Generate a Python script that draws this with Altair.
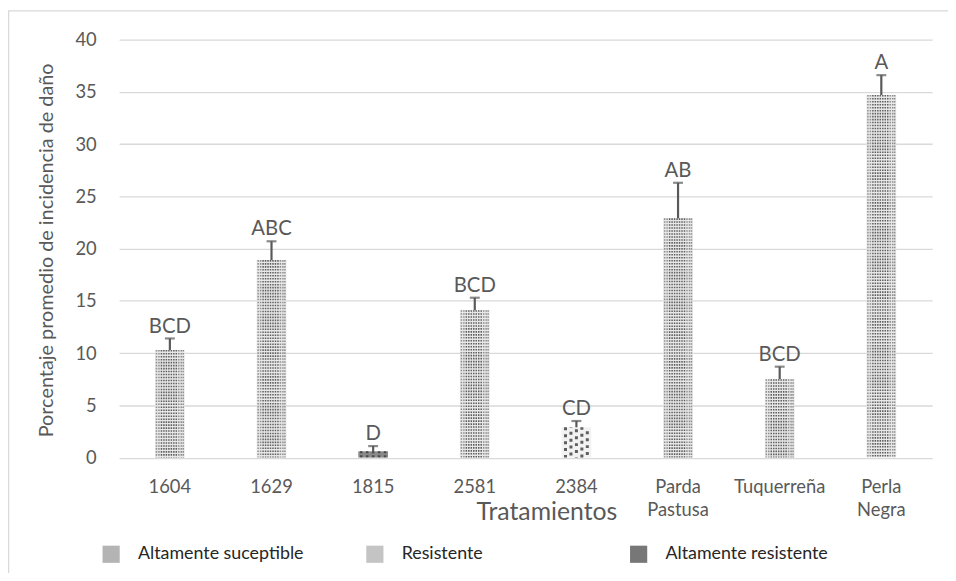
import altair as alt
import pandas as pd

categorias = ["1604", "1629", "1815", "2581", "2384", "Parda Pastusa", "Tuquerreña", "Perla Negra"]
promedios = [10.3, 18.9, 0.6, 14.1, 2.9, 22.9, 7.5, 34.7]
errores = [1.1, 1.8, 0.5, 1.2, 0.6, 3.4, 1.2, 1.9]
letras = ["BCD", "ABC", "D", "BCD", "CD", "AB", "BCD", "A"]
tipos = ["Altamente suceptible", "Altamente suceptible", "Altamente resistente",
         "Altamente suceptible", "Resistente", "Altamente suceptible",
         "Altamente suceptible", "Altamente suceptible"]
tipo_orden = ["Altamente suceptible", "Resistente", "Altamente resistente"]
y_ticks = [0, 5, 10, 15, 20, 25, 30, 35, 40]

df = pd.DataFrame({
    "Tratamiento": categorias,
    "Promedio": promedios,
    "Error": errores,
    "Letra": letras,
    "Tipo": tipos,
})
df["Superior"] = df["Promedio"] + df["Error"]
df["Cero"] = 0.0

FONT = "Lato"
GRAY = "#595959"

x_enc = alt.X("Tratamiento:N", sort=categorias,
              scale=alt.Scale(paddingInner=0, paddingOuter=0),
              axis=alt.Axis(title="Tratamientos", labelAngle=0, domain=False, ticks=False,
                            tickSize=0, labelPadding=20, labelFontSize=18.5, labelColor=GRAY,
                            labelFont=FONT, labelExpr="split(datum.label, ' ')",
                            labelLineHeight=23, titleFontSize=25, titleColor=GRAY,
                            titleFont=FONT, titleFontWeight="normal", titleX=431, titleY=62,
                            titleAlign="center", titleBaseline="alphabetic"))

base = alt.Chart(df)

bars = base.mark_bar(width=30, stroke=None).encode(
    x=x_enc,
    y=alt.Y("Promedio:Q", scale=alt.Scale(domain=[0, 40], nice=False),
            axis=alt.Axis(title="Porcentaje promedio de incidencia de daño", values=y_ticks,
                          domain=False, ticks=False, tickSize=0, labelPadding=23,
                          labelFontSize=18.5, labelColor=GRAY, labelFont=FONT,
                          gridColor="#d9d9d9", gridWidth=1.3, titleFontSize=20,
                          titleColor=GRAY, titleFont=FONT, titleFontWeight="normal",
                          titleX=-73, titleY=212, titleAngle=270, titleAlign="center",
                          titleBaseline="middle")),
    fill=alt.Fill("Tipo:N", scale=alt.Scale(domain=tipo_orden,
                                             range=["#e8e8e8", "#f2f2f2", "#8a8a8a"]),
                  legend=None),
)

legend_layer = base.mark_square(opacity=0, size=1).encode(
    x=alt.X("Tratamiento:N", sort=categorias),
    y="Cero:Q",
    color=alt.Color("Tipo:N", scale=alt.Scale(domain=tipo_orden,
                                               range=["#b4b4b4", "#c4c4c4", "#777777"]),
                    legend=alt.Legend(title=None, orient="none", legendX=-17, legendY=510,
                                      direction="horizontal", columns=3, gridAlign="all",
                                      columnPadding=62, symbolType="square", symbolSize=300,
                                      symbolOpacity=1, symbolStrokeWidth=0,
                                      labelFontSize=18, labelFont=FONT,
                                      labelColor="#262626", labelLimit=400, labelOffset=18,
                                      padding=0)),
)

layers = [bars]

# dotted texture for the highly susceptible bars
sus = base.transform_filter(alt.datum.Tipo == "Altamente suceptible")
offs = [-13.5, -11, -8.5, -6, -3.5, -1, 1.5, 4, 6.5, 9, 11.5, 13.5]
for o in offs:
    col = "#5e5e5e" if abs(o) < 9 else "#8f8f8f"
    layers.append(sus.mark_rule(xOffset=o, strokeWidth=1.5, strokeDash=[1.6, 1.4],
                                color=col).encode(
        x=alt.X("Tratamiento:N", sort=categorias), y="Promedio:Q", y2="Cero:Q"))

# scattered texture for resistant bar
res = base.transform_filter(alt.datum.Tipo == "Resistente")
for i, o in enumerate([-11, -5.5, 0, 5.5, 11]):
    layers.append(res.mark_rule(xOffset=o, strokeWidth=3, strokeDash=[3, 4],
                                strokeDashOffset=i * 2.5, color="#5e5e5e").encode(
        x=alt.X("Tratamiento:N", sort=categorias), y="Promedio:Q", y2="Cero:Q"))

# dense texture for highly resistant bar
hres = base.transform_filter(alt.datum.Tipo == "Altamente resistente")
for o in [-12, -6, 0, 6, 12]:
    layers.append(hres.mark_rule(xOffset=o, strokeWidth=2.5, strokeDash=[2, 2],
                                 color="#4a4a4a").encode(
        x=alt.X("Tratamiento:N", sort=categorias), y="Promedio:Q", y2="Cero:Q"))

err_rule = base.mark_rule(color=GRAY, strokeWidth=2.2).encode(
    x=alt.X("Tratamiento:N", sort=categorias), y="Promedio:Q", y2="Superior:Q")
err_cap = base.mark_tick(color=GRAY, size=10, thickness=2.2).encode(
    x=alt.X("Tratamiento:N", sort=categorias), y="Superior:Q")
text = base.mark_text(baseline="alphabetic", dy=-6, fontSize=20.5, font=FONT, color=GRAY).encode(
    x=alt.X("Tratamiento:N", sort=categorias), y="Superior:Q", text="Letra:N")

border = alt.Chart(pd.DataFrame({"k": [0]})).mark_rect(
    fill=None, stroke="#d9d9d9", strokeWidth=1.5).encode(
    x=alt.value(-111.5), x2=alt.value(860), y=alt.value(-29), y2=alt.value(560))

layers += [legend_layer, err_rule, err_cap, text, border]

chart = alt.layer(*layers).properties(
    width=820, height=421.5,
    padding={"left": 112, "top": 29.5, "right": 16, "bottom": 114},
    autosize=alt.AutoSizeParams(type="none"),
    background="white",
).resolve_scale(fill="independent", color="independent").configure_view(stroke=None)

chart.save("out.html", embed_options={"renderer": "svg", "actions": False})
